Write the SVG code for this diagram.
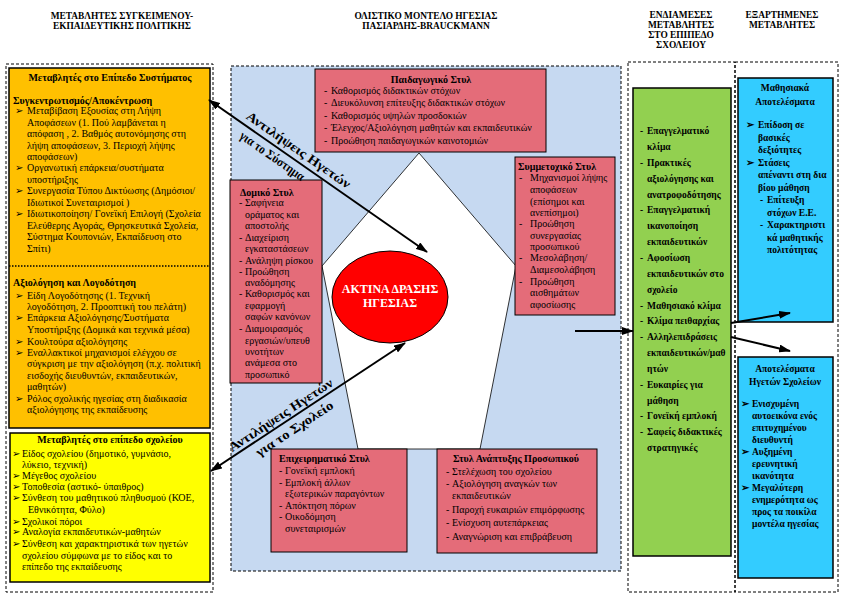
<svg xmlns="http://www.w3.org/2000/svg" width="842" height="595" viewBox="0 0 842 595">
<defs>
<style>
.t{font-family:"Liberation Serif","Times New Roman","DejaVu Serif",serif;font-size:10px;fill:#000}
.g{font-size:9.5px;font-weight:bold}
.b{font-weight:bold}
.m{text-anchor:middle}
.h{font-family:"Liberation Serif","Times New Roman",serif;font-size:9.4px;font-weight:bold;text-anchor:middle}
.dash{fill:none;stroke:#000;stroke-width:1;stroke-dasharray:3,2}
.box{stroke:#000;stroke-width:1.5}
.pink{fill:#E46C79;stroke:#000;stroke-width:1}
.lbl{font-family:"Liberation Serif","Times New Roman",serif;font-size:13px;font-weight:bold}
.con{stroke:#000;stroke-width:2;fill:none}
</style>
<marker id="ah" markerWidth="12" markerHeight="8" refX="11" refY="4" orient="auto-start-reverse" markerUnits="userSpaceOnUse">
<path d="M0,0 L12,4 L0,8 z" fill="#000"/>
</marker>
</defs>
<rect width="842" height="595" fill="#fff"/>

<g id="headers">
<text class="h" x="122" y="19">ΜΕΤΑΒΛΗΤΕΣ ΣΥΓΚΕΙΜΕΝΟΥ-</text>
<text class="h" x="122" y="29">ΕΚΠΑΙΔΕΥΤΙΚΗΣ ΠΟΛΙΤΙΚΗΣ</text>
<text class="h" x="426" y="19">ΟΛΙΣΤΙΚΟ ΜΟΝΤΕΛΟ ΗΓΕΣΙΑΣ</text>
<text class="h" x="426" y="29">ΠΑΣΙΑΡΔΗΣ-BRAUCKMANN</text>
<text class="h" x="681" y="18">ΕΝΔΙΑΜΕΣΕΣ</text>
<text class="h" x="681" y="28">ΜΕΤΑΒΛΗΤΕΣ</text>
<text class="h" x="681" y="38">ΣΤΟ ΕΠΙΠΕΔΟ</text>
<text class="h" x="681" y="48">ΣΧΟΛΕΙΟΥ</text>
<text class="h" x="782" y="18">ΕΞΑΡΤΗΜΕΝΕΣ</text>
<text class="h" x="782" y="28">ΜΕΤΑΒΛΗΤΕΣ</text>
</g>

<rect class="dash" x="6" y="64" width="207" height="528"/>
<rect x="231" y="66" width="390" height="505" fill="#C6D9F1" stroke="#000" stroke-width="1" stroke-dasharray="3,2"/>
<rect class="dash" x="628" y="62" width="107" height="530"/>
<rect class="dash" x="735" y="62" width="103" height="530"/>

<g id="system-level">
<rect class="box" x="9" y="68" width="201" height="360" fill="#FFC000"/>
<line x1="9" y1="266" x2="210" y2="266" stroke="#000" stroke-width="1.5" stroke-dasharray="1.5,1.5"/>
<text class="t b m" x="110" y="81">Μεταβλητές στο Επίπεδο Συστήματος</text>
<text class="t b" x="13" y="104">Συγκεντρωτισμός/Αποκέντρωση</text>
<text class="t">
<tspan x="15" y="114">➢</tspan><tspan x="27" y="114">Μεταβίβαση  Εξουσίας στη Λήψη</tspan>
<tspan x="27" y="126">Αποφάσεων (1. Πού λαμβάνεται η</tspan>
<tspan x="27" y="137">απόφαση , 2. Βαθμός αυτονόμησης  στη</tspan>
<tspan x="27" y="149">λήψη αποφάσεων, 3. Περιοχή λήψης</tspan>
<tspan x="27" y="160">αποφάσεων)</tspan>
<tspan x="15" y="171">➢</tspan><tspan x="27" y="171">Οργανωτική επάρκεια/συστήματα</tspan>
<tspan x="27" y="183">υποστήριξης</tspan>
<tspan x="15" y="194">➢</tspan><tspan x="27" y="194">Συνεργασία Τύπου Δικτύωσης (Δημόσιοι/</tspan>
<tspan x="27" y="206">Ιδιωτικοί Συνεταιρισμοί )</tspan>
<tspan x="15" y="217">➢</tspan><tspan x="27" y="217">Ιδιωτικοποίηση/ Γονεϊκή Επιλογή (Σχολεία</tspan>
<tspan x="27" y="229">Ελεύθερης Αγοράς,  Θρησκευτικά Σχολεία,</tspan>
<tspan x="27" y="240">Σύστημα Κουπονιών, Εκπαίδευση στο</tspan>
<tspan x="27" y="252">Σπίτι)</tspan>
</text>
<text class="t b" x="13" y="286">Αξιολόγηση και Λογοδότηση</text>
<text class="t">
<tspan x="15" y="299">➢</tspan><tspan x="27" y="299">Είδη Λογοδότησης  (1. Τεχνική</tspan>
<tspan x="27" y="310">λογοδότηση, 2. Προοπτική του πελάτη)</tspan>
<tspan x="15" y="321">➢</tspan><tspan x="27" y="321">Επάρκεια Αξιολόγησης/Συστήματα</tspan>
<tspan x="27" y="333">Υποστήριξης (Δομικά και τεχνικά μέσα)</tspan>
<tspan x="15" y="345">➢</tspan><tspan x="27" y="345">Κουλτούρα αξιολόγησης</tspan>
<tspan x="15" y="356">➢</tspan><tspan x="27" y="356">Εναλλακτικοί μηχανισμοί ελέγχου σε</tspan>
<tspan x="27" y="367">σύγκριση με την αξιολόγηση (π.χ.  πολιτική</tspan>
<tspan x="27" y="379">εισδοχής διευθυντών, εκπαιδευτικών,</tspan>
<tspan x="27" y="390">μαθητών)</tspan>
<tspan x="15" y="402">➢</tspan><tspan x="27" y="402">Ρόλος σχολικής ηγεσίας στη διαδικασία</tspan>
<tspan x="27" y="413">αξιολόγησης της εκπαίδευσης</tspan>
</text>
</g>

<g id="school-level">
<rect class="box" x="10" y="433" width="200" height="149" fill="#FFFF00"/>
<text class="t b m" x="110" y="443">Μεταβλητές στο επίπεδο σχολείου</text>
<text class="t">
<tspan x="12" y="457">➢</tspan><tspan x="22" y="457">Είδος σχολείου (δημοτικό, γυμνάσιο,</tspan>
<tspan x="22" y="468">λύκειο, τεχνική)</tspan>
<tspan x="12" y="479">➢</tspan><tspan x="22" y="479">Μέγεθος σχολείου</tspan>
<tspan x="12" y="490">➢</tspan><tspan x="22" y="490">Τοποθεσία  (αστικό- ύπαιθρος)</tspan>
<tspan x="12" y="501">➢</tspan><tspan x="22" y="501">Σύνθεση του μαθητικού πληθυσμού (ΚΟΕ,</tspan>
<tspan x="28" y="513">Εθνικότητα, Φύλο)</tspan>
<tspan x="12" y="525">➢</tspan><tspan x="22" y="525">Σχολικοί πόροι</tspan>
<tspan x="12" y="535">➢</tspan><tspan x="22" y="535">Αναλογία εκπαιδευτικών-μαθητών</tspan>
<tspan x="12" y="547">➢</tspan><tspan x="22" y="547">Σύνθεση και χαρακτηριστικά των ηγετών</tspan>
<tspan x="22" y="559">σχολείου σύμφωνα με το είδος και το</tspan>
<tspan x="22" y="570">επίπεδο της εκπαίδευσης</tspan>
</text>
</g>

<g id="leadership-scope">
<polygon points="419,153 516,266 480,449 358,449 322,266" fill="#fff" stroke="#000" stroke-width="0.8"/>
</g>

<g id="pedagogical-style">
<rect class="pink" x="315" y="69" width="231" height="83"/>
<text class="t b m" x="431" y="83">Παιδαγωγικό Στυλ</text>
<text class="t">
<tspan x="324" y="94">-</tspan><tspan x="331" y="94">Καθορισμός διδακτικών στόχων</tspan>
<tspan x="324" y="106">-</tspan><tspan x="331" y="106">Διευκόλυνση επίτευξης διδακτικών στόχων</tspan>
<tspan x="324" y="119">-</tspan><tspan x="331" y="119">Καθορισμός υψηλών προσδοκιών</tspan>
<tspan x="324" y="131">-</tspan><tspan x="331" y="131">Έλεγχος/Αξιολόγηση μαθητών και εκπαιδευτικών</tspan>
<tspan x="324" y="144">-</tspan><tspan x="331" y="144">Προώθηση παιδαγωγικών καινοτομιών</tspan>
</text>
</g>

<g id="structural-style">
<rect class="pink" x="230" y="180" width="92" height="203"/>
<text class="t b" x="240" y="196">Δομικό Στυλ</text>
<text class="t">
<tspan x="239" y="206">-</tspan><tspan x="245" y="206">Σαφήνεια</tspan>
<tspan x="245" y="218">οράματος και</tspan>
<tspan x="245" y="229">αποστολής</tspan>
<tspan x="239" y="241">-</tspan><tspan x="245" y="241">Διαχείριση</tspan>
<tspan x="245" y="252">εγκαταστάσεων</tspan>
<tspan x="239" y="264">-</tspan><tspan x="245" y="264">Ανάληψη ρίσκου</tspan>
<tspan x="239" y="275">-</tspan><tspan x="245" y="275">Προώθηση</tspan>
<tspan x="245" y="286">αναδόμησης</tspan>
<tspan x="239" y="297">-</tspan><tspan x="245" y="297">Καθορισμός και</tspan>
<tspan x="245" y="309">εφαρμογή</tspan>
<tspan x="245" y="320">σαφών κανόνων</tspan>
<tspan x="239" y="332">-</tspan><tspan x="245" y="332">Διαμοιρασμός</tspan>
<tspan x="245" y="344">εργασιών/υπευθ</tspan>
<tspan x="245" y="355">υνοτήτων</tspan>
<tspan x="245" y="366">ανάμεσα στο</tspan>
<tspan x="245" y="378">προσωπικό</tspan>
</text>
</g>

<g id="participative-style">
<rect class="pink" x="515" y="157" width="100" height="158"/>
<text class="t b" x="518" y="170">Συμμετοχικό Στυλ</text>
<text class="t">
<tspan x="519" y="181">-</tspan><tspan x="530" y="181">Μηχανισμοί λήψης</tspan>
<tspan x="530" y="193">αποφάσεων</tspan>
<tspan x="530" y="205">(επίσημοι και</tspan>
<tspan x="530" y="216">ανεπίσημοι)</tspan>
<tspan x="519" y="227">-</tspan><tspan x="530" y="227">Προώθηση</tspan>
<tspan x="530" y="239">συνεργασίας</tspan>
<tspan x="530" y="250">προσωπικού</tspan>
<tspan x="519" y="261">-</tspan><tspan x="530" y="261">Μεσολάβηση/</tspan>
<tspan x="530" y="273">Διαμεσολάβηση</tspan>
<tspan x="519" y="285">-</tspan><tspan x="530" y="285">Προώθηση</tspan>
<tspan x="530" y="296">αισθημάτων</tspan>
<tspan x="530" y="308">αφοσίωσης</tspan>
</text>
</g>

<g id="entrepreneurial-style">
<rect class="pink" x="271" y="449" width="136" height="103"/>
<text class="t b" x="279" y="462">Επιχειρηματικό Στυλ</text>
<text class="t">
<tspan x="279" y="474">-</tspan><tspan x="285" y="474">Γονεϊκή εμπλοκή</tspan>
<tspan x="279" y="486">-</tspan><tspan x="285" y="486">Εμπλοκή άλλων</tspan>
<tspan x="285" y="497">εξωτερικών παραγόντων</tspan>
<tspan x="279" y="509">-</tspan><tspan x="285" y="509">Απόκτηση πόρων</tspan>
<tspan x="279" y="520">-</tspan><tspan x="285" y="520">Οικοδόμηση</tspan>
<tspan x="285" y="532">συνεταιρισμών</tspan>
</text>
</g>

<g id="staff-development-style">
<rect class="pink" x="437" y="449" width="160" height="104"/>
<text class="t b m" x="516" y="462">Στυλ Ανάπτυξης Προσωπικού</text>
<text class="t">
<tspan x="446" y="475">-</tspan><tspan x="452" y="475">Στελέχωση του σχολείου</tspan>
<tspan x="446" y="487">-</tspan><tspan x="452" y="487">Αξιολόγηση αναγκών των</tspan>
<tspan x="452" y="499">εκπαιδευτικών</tspan>
<tspan x="446" y="513">-</tspan><tspan x="452" y="513">Παροχή ευκαιριών επιμόρφωσης</tspan>
<tspan x="446" y="526">-</tspan><tspan x="452" y="526">Ενίσχυση αυτεπάρκειας</tspan>
<tspan x="446" y="540">-</tspan><tspan x="452" y="540">Αναγνώριση και επιβράβευση</tspan>
</text>
</g>

<g id="leadership-action">
<ellipse cx="390" cy="297" rx="58" ry="46" fill="#FF0000" stroke="#000" stroke-width="1"/>
<text class="t b m" x="390" y="293" style="fill:#fff;font-size:12px">ΑΚΤΙΝΑ ΔΡΑΣΗΣ</text>
<text class="t b m" x="390" y="307" style="fill:#fff;font-size:12px">ΗΓΕΣΙΑΣ</text>
</g>

<g id="mediating-variables">
<rect class="box" x="633" y="88" width="98" height="468" fill="#92D050"/>
<text class="t g">
<tspan x="640" y="134">-</tspan><tspan x="647" y="134">Επαγγελματικό</tspan>
<tspan x="647" y="150">κλίμα</tspan>
<tspan x="640" y="166">-</tspan><tspan x="647" y="166">Πρακτικές</tspan>
<tspan x="647" y="182">αξιολόγησης και</tspan>
<tspan x="647" y="198">ανατροφοδότησης</tspan>
<tspan x="640" y="213">-</tspan><tspan x="647" y="213">Επαγγελματική</tspan>
<tspan x="647" y="229">ικανοποίηση</tspan>
<tspan x="647" y="245">εκπαιδευτικών</tspan>
<tspan x="640" y="261">-</tspan><tspan x="647" y="261">Αφοσίωση</tspan>
<tspan x="647" y="277">εκπαιδευτικών στο</tspan>
<tspan x="647" y="293">σχολείο</tspan>
<tspan x="640" y="309">-</tspan><tspan x="647" y="309">Μαθησιακό κλίμα</tspan>
<tspan x="640" y="324">-</tspan><tspan x="647" y="324">Κλίμα πειθαρχίας</tspan>
<tspan x="640" y="340">-</tspan><tspan x="647" y="340">Αλληλεπιδράσεις</tspan>
<tspan x="647" y="356">εκπαιδευτικών/μαθ</tspan>
<tspan x="647" y="372">ητών</tspan>
<tspan x="640" y="388">-</tspan><tspan x="647" y="388">Ευκαιρίες για</tspan>
<tspan x="647" y="404">μάθηση</tspan>
<tspan x="640" y="419">-</tspan><tspan x="647" y="419">Γονεϊκή εμπλοκή</tspan>
<tspan x="640" y="435">-</tspan><tspan x="647" y="435">Σαφείς διδακτικές</tspan>
<tspan x="647" y="451">στρατηγικές</tspan>
</text>
</g>

<g id="learning-outcomes">
<rect class="box" x="738" y="78" width="95" height="244" fill="#33CCFF"/>
<text class="t g m" x="785" y="91">Μαθησιακά</text>
<text class="t g m" x="785" y="105">Αποτελέσματα</text>
<text class="t g">
<tspan x="746" y="128">➢</tspan><tspan x="758" y="128">Επίδοση σε</tspan>
<tspan x="758" y="141">βασικές</tspan>
<tspan x="758" y="153">δεξιότητες</tspan>
<tspan x="746" y="166">➢</tspan><tspan x="758" y="166">Στάσεις</tspan>
<tspan x="758" y="178">απέναντι στη δια</tspan>
<tspan x="758" y="191">βίου μάθηση</tspan>
<tspan x="760" y="203">-</tspan><tspan x="767" y="203">Επίτευξη</tspan>
<tspan x="767" y="216">στόχων Ε.Ε.</tspan>
<tspan x="760" y="228">-</tspan><tspan x="767" y="228">Χαρακτηριστι</tspan>
<tspan x="767" y="241">κά μαθητικής</tspan>
<tspan x="767" y="253">πολιτότητας</tspan>
</text>
</g>

<g id="leader-outcomes">
<rect class="box" x="738" y="357" width="95" height="221" fill="#33CCFF"/>
<text class="t g m" x="785" y="372">Αποτελέσματα</text>
<text class="t g m" x="785" y="385">Ηγετών Σχολείων</text>
<text class="t g">
<tspan x="741" y="407">➢</tspan><tspan x="752" y="407">Ενισχυμένη</tspan>
<tspan x="752" y="419">αυτοεικόνα   ενός</tspan>
<tspan x="752" y="431">επιτυχημένου</tspan>
<tspan x="752" y="443">διευθυντή</tspan>
<tspan x="741" y="455">➢</tspan><tspan x="752" y="455">Αυξημένη</tspan>
<tspan x="752" y="467">ερευνητική</tspan>
<tspan x="752" y="479">ικανότητα</tspan>
<tspan x="741" y="491">➢</tspan><tspan x="752" y="491">Μεγαλύτερη</tspan>
<tspan x="752" y="503">ενημερότητα ως</tspan>
<tspan x="752" y="515">προς τα ποικίλα</tspan>
<tspan x="752" y="527">μοντέλα ηγεσίας</tspan>
</text>
</g>

<g id="connectors">
<line class="con" x1="209" y1="100" x2="427" y2="252" marker-start="url(#ah)" marker-end="url(#ah)"/>
<line class="con" x1="211" y1="471" x2="405" y2="343" marker-start="url(#ah)" marker-end="url(#ah)"/>
<line class="con" x1="575" y1="331" x2="633" y2="331" marker-end="url(#ah)"/>
<line class="con" x1="731" y1="323" x2="790" y2="313" marker-end="url(#ah)"/>
<line class="con" x1="731" y1="337" x2="790" y2="351" marker-end="url(#ah)"/>
<g transform="translate(209,100) rotate(34.9)">
<text class="lbl" x="40" y="-6" textLength="124" lengthAdjust="spacingAndGlyphs">Αντιλήψεις Ηγετών</text>
<text class="lbl" x="46" y="14" textLength="76" lengthAdjust="spacingAndGlyphs">για το Σύστημα</text>
</g>
<g transform="translate(211,471) rotate(-33.4)">
<text class="lbl" x="28" y="-4" textLength="122" lengthAdjust="spacingAndGlyphs">Αντιλήψεις Ηγετών</text>
<text class="lbl" x="48" y="15" textLength="90" lengthAdjust="spacingAndGlyphs">για το Σχολείο</text>
</g>
</g>
</svg>
